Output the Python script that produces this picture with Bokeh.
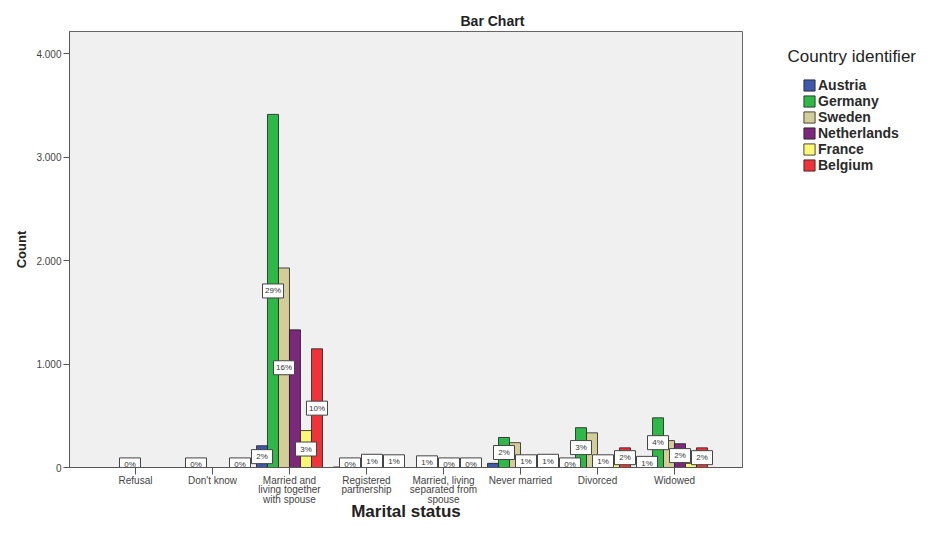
import numpy as np
from bokeh.plotting import figure
from bokeh.layouts import row
from bokeh.models import (FixedTicker, Range1d, Legend, LegendItem,
                          ColumnDataSource)
from bokeh.embed import file_html
from bokeh.resources import INLINE
from bokeh.core.properties import value

# ---------------- data ----------------
categories = ["Refusal", "Don't know", "Married and\nliving together\nwith spouse",
              "Registered\npartnership", "Married, living\nseparated from\nspouse",
              "Never married", "Divorced", "Widowed"]
countries = ["Austria", "Germany", "Sweden", "Netherlands", "France", "Belgium"]
colors = ["#3e58ac", "#2eb848", "#d3ce97", "#7c287d", "#fbf873", "#ef3338"]

austria = [0, 0, 210, 5, 0, 40, 30, 80]
germany = [0, 6, 3412, 40, 90, 290, 385, 480]
sweden = [3, 0, 1928, 0, 0, 240, 335, 260]
netherlands = [0, 0, 1330, 120, 35, 110, 110, 230]
france = [0, 0, 357, 0, 0, 20, 30, 40]
belgium = [0, 8, 1147, 110, 40, 120, 190, 190]

austria_pct = ["", "", "2%", "", "", "", "0%", "1%"]
germany_pct = ["", "0%", "29%", "0%", "1%", "2%", "3%", "4%"]
sweden_pct = ["0%", "", "16%", "", "", "", "", ""]
netherlands_pct = ["", "", "", "1%", "0%", "1%", "1%", "2%"]
france_pct = ["", "", "3%", "", "", "", "", ""]
belgium_pct = ["", "0%", "10%", "1%", "0%", "1%", "2%", "2%"]

y_ticks = [0, 1000, 2000, 3000, 4000]
y_tick_labels = ["0", "1.000", "2.000", "3.000", "4.000"]

series = [austria, germany, sweden, netherlands, france, belgium]
pcts = [austria_pct, germany_pct, sweden_pct, netherlands_pct, france_pct, belgium_pct]

FONT = "Liberation Sans"

p = figure(width=743, height=535, output_backend="svg", toolbar_location=None,
           x_range=Range1d(-0.857, 7.883), y_range=Range1d(0, 4213),
           min_border_left=69, min_border_right=1, min_border_top=31,
           min_border_bottom=68)

p.title.text = "Bar Chart"
p.title.text_font = FONT
p.title.text_font_size = "14px"
p.title.text_font_style = "bold"
p.title.text_color = "#222222"
p.title.align = "left"
p.title.offset = 391
p.title.standoff = 5

p.background_fill_color = "#f0f0f0"
p.border_fill_color = "white"
p.outline_line_color = "#666666"
p.outline_line_width = 1
p.xgrid.visible = False
p.ygrid.visible = False

bw = 1.0 / 7.0
idx = np.arange(len(categories))
for j, (vals, col) in enumerate(zip(series, colors)):
    xs = idx + (j - 2.5) * bw
    p.vbar(x=xs, top=vals, width=bw, fill_color=col,
           line_color="#1e1e1e", line_width=0.8)

# percentage label boxes
lx, ly, lt = [], [], []
for j, (vals, pc) in enumerate(zip(series, pcts)):
    for i in range(len(categories)):
        if pc[i]:
            lx.append(i + (j - 2.5) * bw)
            ly.append(max(vals[i] / 2.0, 25))
            lt.append(pc[i])
src = ColumnDataSource(dict(x=lx, y=ly, t=lt))
p.rect(x="x", y="y", width=21, height=14, width_units="screen",
       height_units="screen", source=src, fill_color="white",
       line_color="#444444", line_width=1)
p.text(x="x", y="y", text="t", source=src, text_align="center",
       text_baseline="middle", text_font_size="8px", text_color="#333333",
       text_font=value(FONT))

# axes
p.xaxis.ticker = FixedTicker(ticks=list(range(len(categories))))
p.xaxis.major_label_overrides = {i: c for i, c in enumerate(categories)}
p.xaxis.minor_tick_line_color = None
p.xaxis.major_tick_out = 7
p.xaxis.major_tick_in = 0
p.xaxis.major_label_standoff = 0
p.xaxis.major_label_text_font = FONT
p.xaxis.major_label_text_font_size = "10px"
p.xaxis.major_label_text_line_height = 0.9
p.xaxis.major_label_text_color = "#444444"
p.xaxis.axis_line_color = "#555555"
p.xaxis.major_tick_line_color = "#555555"
p.xaxis.axis_label = "Marital status"
p.xaxis.axis_label_text_font = FONT
p.xaxis.axis_label_text_font_size = "17px"
p.xaxis.axis_label_text_font_style = "bold"
p.xaxis.axis_label_text_color = "#222222"
p.xaxis.axis_label_standoff = -6

p.yaxis.ticker = FixedTicker(ticks=y_ticks)
p.yaxis.major_label_overrides = {t: l for t, l in zip(y_ticks, y_tick_labels)}
p.yaxis.minor_tick_line_color = None
p.yaxis.major_tick_out = 6
p.yaxis.major_tick_in = 0
p.yaxis.major_label_standoff = 2
p.yaxis.major_label_text_font = FONT
p.yaxis.major_label_text_font_size = "10px"
p.yaxis.major_label_text_color = "#444444"
p.yaxis.axis_line_color = "#555555"
p.yaxis.major_tick_line_color = "#555555"
p.yaxis.axis_label = "Count"
p.yaxis.axis_label_text_font = FONT
p.yaxis.axis_label_text_font_size = "13px"
p.yaxis.axis_label_text_font_style = "bold"
p.yaxis.axis_label_text_color = "#222222"
p.yaxis.axis_label_standoff = 4

# ---------------- legend panel (frame aligned with the chart's frame) -------
q = figure(width=188, height=535, output_backend="svg", toolbar_location=None,
           x_range=Range1d(743, 931), y_range=Range1d(467, 31),
           min_border_left=0, min_border_right=0, min_border_top=31,
           min_border_bottom=68)
q.axis.visible = False
q.grid.visible = False
q.outline_line_color = None
q.background_fill_color = "white"
q.border_fill_color = "white"

q.text(x=[787], y=[56], text=["Country identifier"], text_font=value(FONT),
       text_font_size="17px", text_color="#222222", text_baseline="middle",
       text_align="left")

legend_renderers = []
for c, col in zip(countries, colors):
    r = q.vbar(x=[np.nan], top=[np.nan], width=1, fill_color=col,
               line_color="#1e1e1e", line_width=0.8)
    legend_renderers.append(r)
items = [LegendItem(label=c, renderers=[r]) for c, r in zip(countries, legend_renderers)]
legend = Legend(items=items, location=(59, 294), padding=0, margin=0,
                spacing=0, label_height=16, glyph_width=14, glyph_height=14,
                label_standoff=2, label_text_font=FONT,
                label_text_font_size="14px", label_text_font_style="bold",
                label_text_line_height=1.0,
                label_text_color="#2a2a2a",
                border_line_color=None, background_fill_alpha=0)
q.add_layout(legend, "center")

layout = row(p, q)
open("out.html", "w").write(file_html(layout, INLINE))
